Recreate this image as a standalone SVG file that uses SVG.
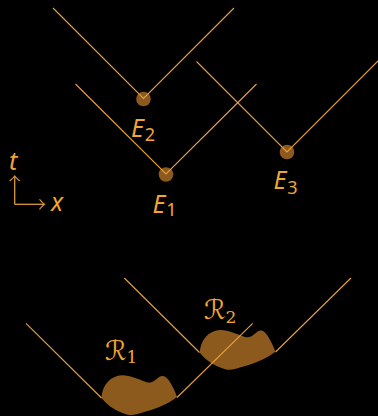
<svg xmlns="http://www.w3.org/2000/svg" width="378" height="416" viewBox="0 0 378 416">
<style>
.cone{fill:none;stroke:#e9a040;stroke-width:1.1}
.axis{fill:none;stroke:#d9963a;stroke-width:1.3}
.dot{fill:#8c5a1c}
.blob{fill:#8c5a1c}
.lab{font-family:"Noto Sans",sans-serif;font-style:italic;font-size:25px;fill:#f2a534}
.sub{font-family:"Noto Sans",sans-serif;font-style:normal;font-size:18px;fill:#f2a534}
.rl{font-family:"DejaVu Sans",serif;font-size:27px;fill:#f2a534}
.rs{font-family:"DejaVu Serif",serif;font-size:17px;fill:#f2a534}
</style>
<defs>
<marker id="ah" viewBox="-6 -6 8 12" markerWidth="8" markerHeight="12" refX="0" refY="0" orient="auto" markerUnits="userSpaceOnUse">
<path d="M-4.5,-5 Q-1,-1 0.5,0 Q-1,1 -4.5,5" fill="none" stroke="#d9963a" stroke-width="1.2"/>
</marker>
<path id="blobshape" d="M101.5,398 C102,388 107,379 117,376 C127,373.5 137,379 146,382 C152,384 155,380 159,377 C163,374.5 166,376.5 169,380.5 C172,385 175,391 177,397 C168,404 158,408 146,411.5 C138,414 132,416 127,414.5 C117,412 107,405 101.5,398 Z"/>
</defs>
<rect x="0" y="0" width="378" height="416" fill="#000"/>

<g id="E2">
<circle class="dot" cx="143.5" cy="99" r="7.3"/>
<text class="lab" x="131" y="137">E<tspan class="sub" dx="1" dy="4">2</tspan></text>
</g>
<g id="E1">
<circle class="dot" cx="166" cy="174.5" r="7.3"/>
<text class="lab" x="152.5" y="212.5">E<tspan class="sub" dx="1" dy="3">1</tspan></text>
</g>
<g id="E3">
<circle class="dot" cx="287" cy="152" r="7.3"/>
<text class="lab" x="273.5" y="189">E<tspan class="sub" dx="1" dy="5">3</tspan></text>
</g>

<g id="R1">
<use href="#blobshape" class="blob"/>
<text class="rl" x="105" y="360">ℛ<tspan class="rs" dx="0" dy="3">1</tspan></text>
</g>
<g id="R2">
<use href="#blobshape" class="blob" transform="translate(98.3,-45.3)"/>
<text class="rl" x="204" y="319">ℛ<tspan class="rs" dx="0" dy="4">2</tspan></text>
</g>

<g id="axes">
<line class="axis" x1="14.7" y1="204.3" x2="14.7" y2="176.5" marker-end="url(#ah)"/>
<line class="axis" x1="14.7" y1="204.3" x2="44" y2="204.3" marker-end="url(#ah)"/>
<text class="lab" x="9" y="170">t</text>
<text class="lab" x="51" y="211">x</text>
</g>

<g id="connectors">
<polyline class="cone" points="53,8 143.5,98.5 234,8"/>
<polyline class="cone" points="75.5,84 166,174 256.5,84"/>
<polyline class="cone" points="196.5,61.5 287,152 378,61"/>
<line class="cone" x1="26" y1="323.3" x2="101.5" y2="398"/>
<line class="cone" x1="177" y1="397.5" x2="252.7" y2="323.3"/>
<line class="cone" x1="124.3" y1="278" x2="199.5" y2="352.5"/>
<line class="cone" x1="275.5" y1="352" x2="351" y2="278"/>
</g>
</svg>
